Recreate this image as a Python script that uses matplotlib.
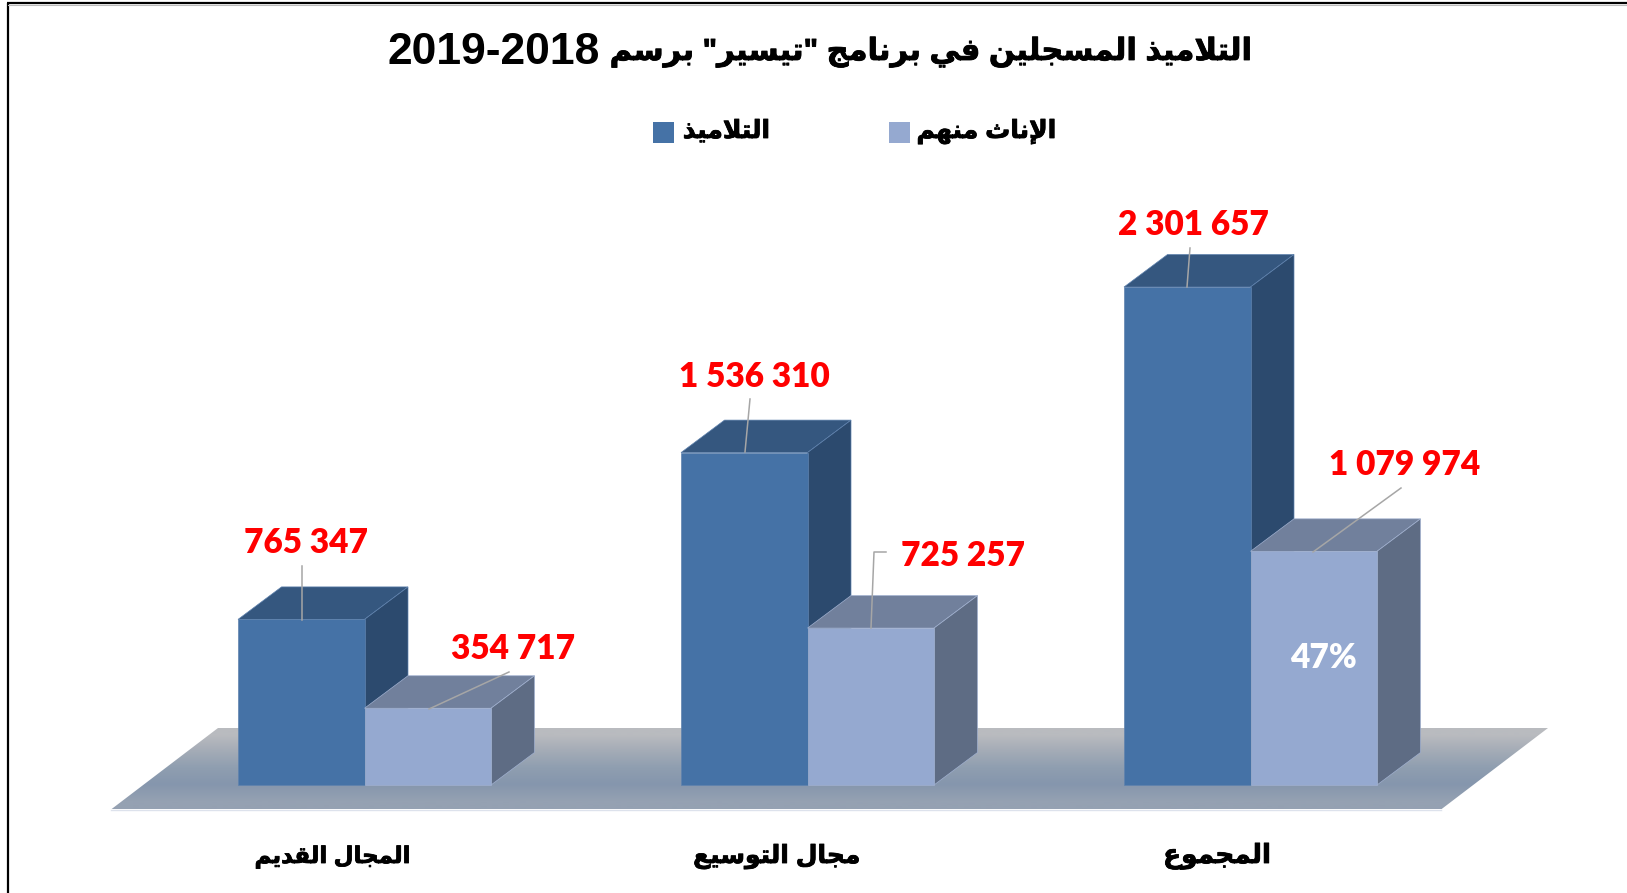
# three columns of fake-3d bars, arabic text is shaped by hand since matplotlib does not do it

import matplotlib
matplotlib.use('Agg')
import matplotlib.pyplot as plt
import matplotlib.patches as patches
import matplotlib.patheffects as pe
import numpy as np

categories = ["المجال القديم", "مجال التوسيع", "المجموع"]
series_names = ["التلاميذ", "الإناث منهم"]
students = [765347, 1536310, 2301657]
girls = [354717, 725257, 1079974]
girls_share = "47%"
title_words = 'التلاميذ المسجلين في برنامج "تيسير" برسم'
title_years = "2019-2018"

W, H = 1627, 893
AR = ['Liberation Sans', 'DejaVu Sans']
# the arabic glyphs are thinner than in the original, thicken a little
thick = [pe.withStroke(linewidth=0.6, foreground='black')]

#--------------------------------------
# isolated, final, initial, medial
forms = {
  'ا': (0xFE8D, 0xFE8E), 'إ': (0xFE87, 0xFE88), 'د': (0xFEA9, 0xFEAA), 'ذ': (0xFEAB, 0xFEAC),
  'ر': (0xFEAD, 0xFEAE), 'و': (0xFEED, 0xFEEE),
  'ب': (0xFE8F, 0xFE90, 0xFE91, 0xFE92), 'ت': (0xFE95, 0xFE96, 0xFE97, 0xFE98),
  'ث': (0xFE99, 0xFE9A, 0xFE9B, 0xFE9C), 'ج': (0xFE9D, 0xFE9E, 0xFE9F, 0xFEA0),
  'س': (0xFEB1, 0xFEB2, 0xFEB3, 0xFEB4), 'ع': (0xFEC9, 0xFECA, 0xFECB, 0xFECC),
  'ف': (0xFED1, 0xFED2, 0xFED3, 0xFED4), 'ق': (0xFED5, 0xFED6, 0xFED7, 0xFED8),
  'ل': (0xFEDD, 0xFEDE, 0xFEDF, 0xFEE0), 'م': (0xFEE1, 0xFEE2, 0xFEE3, 0xFEE4),
  'ن': (0xFEE5, 0xFEE6, 0xFEE7, 0xFEE8), 'ه': (0xFEE9, 0xFEEA, 0xFEEB, 0xFEEC),
  'ي': (0xFEF1, 0xFEF2, 0xFEF3, 0xFEF4),
}
lam_alef = {'ا': (0xFEFB, 0xFEFC), 'إ': (0xFEF9, 0xFEFA)}

# returns the text in visual order, left to right
def shape_arabic (text):
  out = []
  i = 0
  joined = False
  while i < len(text):
    c = text[i]
    if c not in forms:
      out.append(c)
      joined = False
      i = i + 1
      continue
    if c == 'ل' and i + 1 < len(text) and text[i + 1] in lam_alef:
      out.append(chr(lam_alef[text[i + 1]][1 if joined else 0]))
      joined = False
      i = i + 2
      continue
    f = forms[c]
    next_ok = i + 1 < len(text) and text[i + 1] in forms
    if len(f) == 2:
      out.append(chr(f[1] if joined else f[0]))
      joined = False
    else:
      if joined and next_ok:
        out.append(chr(f[3]))
      elif joined:
        out.append(chr(f[1]))
      elif next_ok:
        out.append(chr(f[2]))
      else:
        out.append(chr(f[0]))
      joined = next_ok
    i = i + 1
  return "".join(reversed(out))

def number_label (value):
  return f"{value:,}".replace(",", " ")

#--------------------------------------
fig = plt.figure(figsize=(W / 100, H / 100), dpi=100, facecolor='white')

def pixel_axes (z):
  a = fig.add_axes([0, 0, 1, 1], zorder=z)
  a.set_xlim(0, W)
  a.set_ylim(H, 0)
  a.axis('off')
  return a

back = pixel_axes(0)
top = pixel_axes(2)

# floor with vertical gradient
floor_xy = [(111, 809.5), (218, 728), (1548, 728), (1441, 809.5)]
grad = np.array([[[0xB9, 0xBB, 0xBF]], [[0xA3, 0xAB, 0xB6]], [[0x8F, 0x9E, 0xB0]],
                 [[0x85, 0x96, 0xAD]], [[0x95, 0xA1, 0xB2]]]) / 255
im = back.imshow(grad, extent=(111, 1548, 809.5, 728), aspect='auto', interpolation='bilinear')
floor = patches.Polygon(floor_xy, closed=True, transform=back.transData, facecolor='none', edgecolor='none')
back.add_patch(floor)
im.set_clip_path(floor)
back.plot([111, 1441], [810, 810], color='#DDE2EC', lw=1)
back.set_xlim(0, W)
back.set_ylim(H, 0)

# frame, black on the left and on top
back.plot([8, 8], [3, H], color='black', lw=1.6, solid_capstyle='butt')
back.plot([7, W], [3, 3], color='black', lw=1.6, solid_capstyle='butt')
back.plot([8, W], [4.6, 4.6], color='#BBBBBB', lw=0.8)

# bars: x in category units, y in students
px_per_cat = 443.0
px_per_val = 498.0 / 2301657
split0 = 364.5
base_y = 785
ax = fig.add_axes([0, 0, 1, 1], zorder=1)
ax.patch.set_alpha(0)
ax.set_xlim(-split0 / px_per_cat, (W - split0) / px_per_cat)
ax.set_ylim(-(H - base_y) / px_per_val, base_y / px_per_val)
ax.axis('off')

bar_w = 126.5 / px_per_cat
dx = 43.5 / px_per_cat
dy = 32.5 / px_per_val

def bar3d (x, value, front, roof, side, edge):
  left = x - bar_w / 2
  right = x + bar_w / 2
  ax.add_patch(patches.Polygon([(left, value), (right, value), (right + dx, value + dy), (left + dx, value + dy)],
                               facecolor=roof, edgecolor=edge, lw=0.5))
  ax.add_patch(patches.Polygon([(right, 0), (right + dx, dy), (right + dx, value + dy), (right, value)],
                               facecolor=side, edgecolor=edge, lw=0.5))
  ax.bar(x, value, bar_w, color=front, edgecolor=edge, linewidth=0.5, zorder=3)

for i in range(len(categories)):
  bar3d(i - bar_w / 2, students[i], '#4572A6', '#35577F', '#2C4A6E', '#5F82AE')
  bar3d(i + bar_w / 2, girls[i], '#95A9D0', '#71809C', '#5E6C84', '#A0B0CF')
  # light bar has to sit over the dark side, bar() patches stay on zorder 3
  ax.patches[-1].set_zorder(3.2)
  ax.patches[-2].set_zorder(3.1)
  ax.patches[-3].set_zorder(3.1)

# leader lines
leaders = [
  [(302, 566), (302, 620)],
  [(509, 672), (429, 709)],
  [(750, 399), (745, 452)],
  [(886, 552), (874, 552), (871, 628)],
  [(1190, 248), (1187, 287)],
  [(1401, 488), (1313, 552)],
]
for pts in leaders:
  top.plot([p[0] for p in pts], [p[1] for p in pts], color='#A6A6A6', lw=1.1)

# value labels
label_pos = [(306.5, 553), (754.5, 387), (1193, 235), (512.7, 659), (963, 566), (1405, 475)]
for v, (x, y) in zip(students + girls, label_pos):
  top.text(x, y, number_label(v), color='#FF0000', family='Lato', weight='heavy', fontsize=24, ha='center', va='baseline')
top.text(1323, 668, girls_share, color='white', family='Lato', weight='heavy', fontsize=24, ha='center', va='baseline')

# title, years and words apart because the sizes differ
top.text(600, 64, title_years, family='Liberation Sans', weight='bold', fontsize=32,
         color='black', ha='right', va='baseline')
top.text(1252, 60, shape_arabic(title_words), family=AR, weight='bold', fontsize=22,
         color='black', ha='right', va='baseline', path_effects=thick)

# legend
top.add_patch(patches.Rectangle((653, 122), 21, 21, facecolor='#4572A6', edgecolor='none'))
top.add_patch(patches.Rectangle((889, 122), 21, 21, facecolor='#95A9D0', edgecolor='none'))
top.text(726.5, 138, shape_arabic(series_names[0]), family=AR, weight='bold', fontsize=18, ha='center', va='baseline', path_effects=thick)
top.text(986.5, 138, shape_arabic(series_names[1]), family=AR, weight='bold', fontsize=18, ha='center', va='baseline', path_effects=thick)

# categories
for name, x, size in zip(categories, [332, 777, 1217], [16.5, 18, 19]):
  top.text(x, 863, shape_arabic(name), family=AR, weight='bold', fontsize=size, ha='center', va='baseline', path_effects=thick)

fig.savefig('out.png', dpi=100)
